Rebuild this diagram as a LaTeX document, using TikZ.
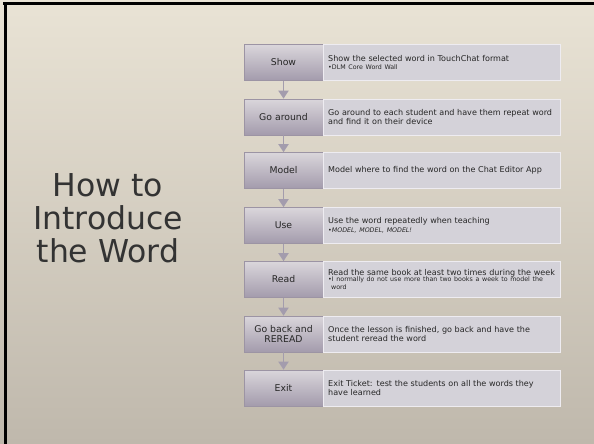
\documentclass[tikz,border=0pt]{standalone}
\usepackage{fontspec}
\setmainfont{DejaVu Sans}
\usetikzlibrary{arrows.meta}
\hyphenpenalty=10000
\exhyphenpenalty=10000
\definecolor{bgtop}{HTML}{E9E3D5}
\definecolor{bgbot}{HTML}{BFB8AC}
\definecolor{lbltop}{HTML}{DAD6DB}
\definecolor{lblbot}{HTML}{A39BAC}
\definecolor{lbldraw}{HTML}{9C94A4}
\definecolor{txtfill}{HTML}{D4D2D9}
\definecolor{txtdraw}{HTML}{EEECF1}
\definecolor{arrowc}{HTML}{A39CAD}
\definecolor{ink}{HTML}{262626}
\definecolor{titleink}{HTML}{333333}
\tikzset{
  lbl/.style={top color=lbltop, bottom color=lblbot, draw=lbldraw, line width=0.6pt,
    minimum width=79pt, minimum height=36pt, inner sep=1pt, align=center, text=ink,
    font=\fontsize{9.3}{10.5}\selectfont},
  txt/.style={fill=txtfill, draw=txtdraw, line width=0.8pt, anchor=west,
    minimum width=237pt, minimum height=36pt, text width=228pt, inner xsep=4.5pt, inner ysep=0pt,
    align=left, text=ink, font=\fontsize{8.05}{9.6}\selectfont},
  flow/.style={draw=arrowc, line width=1.8pt, -{Triangle[width=10pt,length=8pt]}, shorten >=0pt},
}
\newcommand{\subtxt}[1]{{\fontsize{6.3}{7.6}\selectfont #1}}
\begin{document}
\begin{tikzpicture}[x=1pt,y=-1pt]
\useasboundingbox (0,0) rectangle (594,444);
\shade[top color=bgtop, bottom color=bgbot] (0,0) rectangle (594,444);
\fill[black] (3,2.5) rectangle (594,5.5);
\fill[black] (3.5,2.5) rectangle (7,444);
% title
\node[text=titleink, align=center, font=\fontsize{31.5}{33}\selectfont] (title) at (108,218) {How to\\Introduce\\the Word};
% label boxes
\node[lbl] (show) at (283.5,62.5) {Show};
\node[lbl] (go) at (283.5,117) {Go around};
\node[lbl] (model) at (283.5,170.5) {Model};
\node[lbl] (use) at (283.5,225.5) {Use};
\node[lbl] (read) at (283.5,279.5) {Read};
\node[lbl] (back) at (283.5,334) {Go back and\\REREAD};
\node[lbl] (exit) at (283.5,388) {Exit};
% text boxes
\node[txt] (showt) at (show.east) {Show the selected word in TouchChat format\\[-1pt]\subtxt{•DLM Core Word Wall}};
\node[txt] (got) at (go.east) {Go around to each student and have them repeat word\\and find it on their device};
\node[txt] (modelt) at (model.east) {Model where to find the word on the Chat Editor App};
\node[txt] (uset) at (use.east) {Use the word repeatedly when teaching\\[-1pt]\subtxt{•\textit{MODEL, MODEL, MODEL!}}};
\node[txt] (readt) at (read.east) {Read the same book at least two times during the week\\[-1pt]\subtxt{•I normally do not use more than two books a week to model the\\[-1.5pt]\hspace*{3pt}word}};
\node[txt] (backt) at (back.east) {Once the lesson is finished, go back and have the\\student reread the word};
\node[txt] (exitt) at (exit.east) {Exit Ticket: test the students on all the words they\\have learned};
% arrows
\draw[flow] (show.south) -- (go.north);
\draw[flow] (go.south) -- (model.north);
\draw[flow] (model.south) -- (use.north);
\draw[flow] (use.south) -- (read.north);
\draw[flow] (read.south) -- (back.north);
\draw[flow] (back.south) -- (exit.north);
\end{tikzpicture}
\end{document}
